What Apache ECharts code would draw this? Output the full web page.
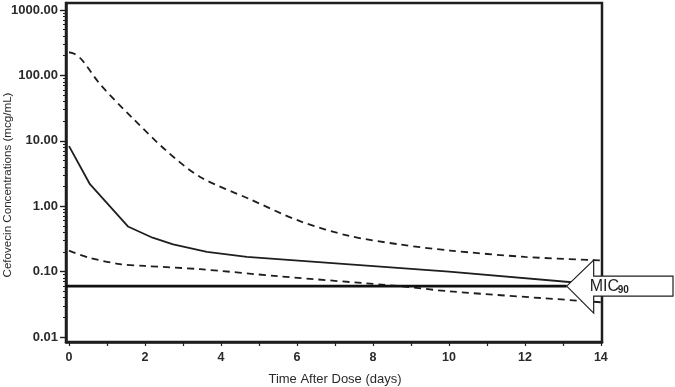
<!DOCTYPE html>
<html><head><meta charset="utf-8">
<script src="https://cdn.jsdelivr.net/npm/echarts@6/dist/echarts.min.js"></script>
<style>html,body{margin:0;padding:0;background:#fff}#c{width:675px;height:387px}</style>
</head><body><div id="c"></div>
<script>
// ---- data ----
const meanDays  = [0, 0.55, 1.55, 2.2, 2.74, 3.63, 4.68, 10, 14];
const meanConc  = [8.3, 2.17, 0.49, 0.33, 0.26, 0.2, 0.168, 0.10, 0.063];
const upperDays = [0, 0.15, 0.35, 0.82, 1.68, 2.58, 3.45, 4.76, 6.08, 7.39, 8.71, 10.03, 12, 14];
const upperConc = [226, 212, 170, 73, 22, 6.9, 2.8, 1.28, 0.59, 0.35, 0.26, 0.21, 0.168, 0.148];
const lowerDays = [0, 0.5, 1.34, 2, 3.45, 5.5, 8.7, 10, 13.4, 14];
const lowerConc = [0.21, 0.165, 0.13, 0.122, 0.109, 0.085, 0.060, 0.050, 0.036, 0.034];
const micValue = 0.06;
const micStartDay = -0.08;
const micEndDay = 13.1;
const xTickLabels = [0, 2, 4, 6, 8, 10, 12, 14];
const xTicks = [0,1,2,3,4,5,6,7,8,9,10,11,12,13,14];
const yMajor = [0.01, 0.1, 1, 10, 100, 1000];
const yMinor = [];
[0.01, 0.1, 1, 10, 100].forEach(d => { for (let k = 2; k <= 9; k++) yMinor.push(+(d * k).toPrecision(3)); });

const pairs = (xs, ys) => xs.map((x, i) => [x, ys[i]]);
const chart = echarts.init(document.getElementById('c'), null, {renderer: 'canvas'});
const FONT = 'Liberation Sans, Arial, Helvetica, sans-serif';
const yMin = 0.00839, yMax = 1280;

chart.setOption({
  animation: false,
  backgroundColor: '#fff',
  grid: {left: 66, top: 3, right: 73, bottom: 45, show: true, borderColor: '#1e1e1e', borderWidth: 2.5, containLabel: false},
  xAxis: {
    type: 'value', min: -0.08, max: 14.03,
    axisLine: {show: true, onZero: false, lineStyle: {color: '#1e1e1e', width: 2.5}},
    axisTick: {show: true, customValues: xTicks, length: 4, lineStyle: {color: '#1e1e1e', width: 1.2}},
    axisLabel: {customValues: xTickLabels, color: '#2a2a2a', fontFamily: FONT, fontWeight: 'bold', fontSize: 12.5, margin: 9},
    splitLine: {show: false}
  },
  yAxis: [{
    type: 'log', min: yMin, max: yMax, logBase: 10,
    axisLine: {show: true, onZero: false, lineStyle: {color: '#1e1e1e', width: 2.5}},
    axisTick: {show: true, customValues: yMajor, length: 6, lineStyle: {color: '#1e1e1e', width: 1.4}},
    axisLabel: {customValues: yMajor, color: '#2a2a2a', fontFamily: FONT, fontWeight: 'bold', fontSize: 13, margin: 8,
      formatter: v => Number(v).toFixed(2)},
    splitLine: {show: false}, minorTick: {show: false}
  }, {
    type: 'log', min: yMin, max: yMax, logBase: 10, position: 'left',
    axisLine: {show: false, onZero: false},
    axisTick: {show: true, customValues: yMinor, length: 3, lineStyle: {color: '#1e1e1e', width: 1}},
    axisLabel: {show: false},
    splitLine: {show: false}
  }],
  series: [
    {type: 'line', data: pairs(meanDays, meanConc), symbol: 'none', lineStyle: {color: '#1e1e1e', width: 1.8}, z: 3},
    {type: 'line', data: pairs(upperDays, upperConc), symbol: 'none', smooth: 0.3, lineStyle: {color: '#1e1e1e', width: 1.8, type: [7, 5]}, z: 3},
    {type: 'line', data: pairs(lowerDays, lowerConc), symbol: 'none', smooth: 0.3, lineStyle: {color: '#1e1e1e', width: 1.8, type: [7, 5]}, z: 3},
    {type: 'line', data: [[micStartDay, micValue], [micEndDay, micValue]], symbol: 'none', lineStyle: {color: '#111', width: 2.6}, z: 4}
  ]
});

const tip = chart.convertToPixel({gridIndex: 0}, [micEndDay, micValue]);
const tx = tip[0], ty = tip[1];
chart.setOption({
  graphic: [
    {type: 'polygon', z: 100,
      shape: {points: [[tx, ty], [tx + 27, ty - 26], [tx + 27, ty - 10], [673, ty - 10], [673, ty + 10], [tx + 27, ty + 10], [tx + 27, ty + 27]]},
      style: {fill: '#fff', stroke: '#1e1e1e', lineWidth: 1.2}},
    {type: 'text', z: 101, left: tx + 23, top: ty - 8,
      style: {text: 'MIC', font: '16px ' + FONT, fill: '#1e1e1e'}},
    {type: 'text', z: 101, left: tx + 51, top: ty - 1,
      style: {text: '90', font: 'bold 10px ' + FONT, fill: '#1e1e1e'}},
    {type: 'text', z: 101, x: 8, y: 185, rotation: Math.PI / 2,
      style: {text: 'Cefovecin Concentrations (mcg/mL)', font: '11.6px ' + FONT, fill: '#2a2a2a', align: 'center', verticalAlign: 'middle'}},
    {type: 'text', z: 101, x: 335, y: 379,
      style: {text: 'Time After Dose (days)', font: '13px ' + FONT, fill: '#2a2a2a', align: 'center', verticalAlign: 'middle'}}
  ]
});
</script></body></html>
